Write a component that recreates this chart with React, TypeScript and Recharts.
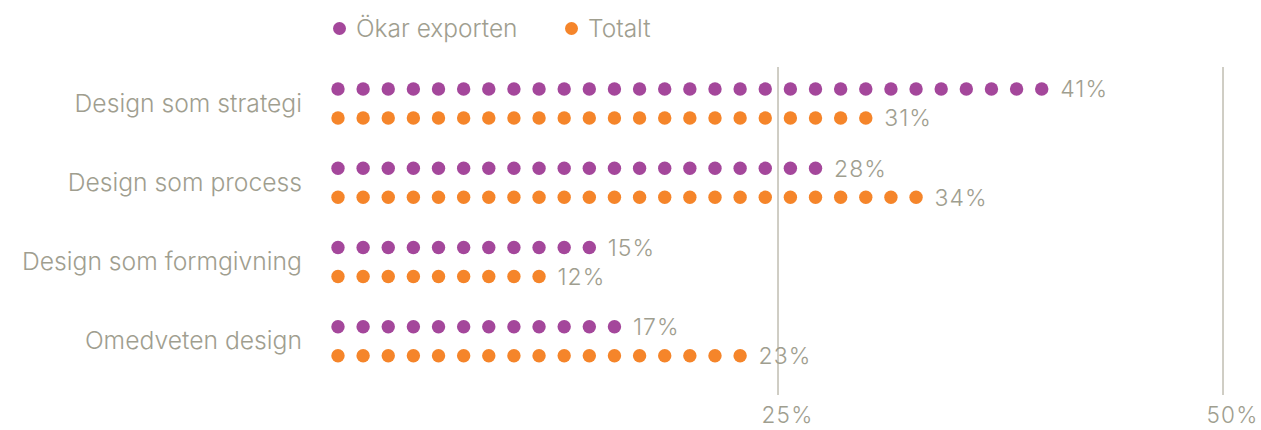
import React from "react";
import { BarChart, Bar, XAxis, YAxis, ReferenceLine } from "recharts";

const categories = ["Design som strategi", "Design som process", "Design som formgivning", "Omedveten design"];
const okarExporten = [41, 28, 15, 17];
const totalt = [31, 34, 12, 23];
const xTicks = [25, 50];
const seriesNames = ["Ökar exporten", "Totalt"];

const DOT_UNIT = 1.42; // percent represented by one dot
const DOT_STEP = 1.412; // spacing between dots in percent units

const PURPLE = "#a4479b";
const ORANGE = "#f5852a";
const GRAY = "#a09e8f";
const LINE = "#a09c8a";
const FONT = "Inter";

const data = categories.map((c, i) => ({ name: c, exporten: okarExporten[i], totalt: totalt[i] }));

const makeDotShape = (color: string) => (props: any) => {
  const { x, y, width, height, value } = props;
  const v = Array.isArray(value) ? value[1] - value[0] : value;
  if (!v || !width) return <g />;
  const pxPerUnit = width / v;
  const step = DOT_STEP * pxPerUnit;
  const n = Math.ceil(v / DOT_UNIT);
  const cy = y + height / 2;
  const x0 = x + 0.28 * pxPerUnit;
  const dots = [];
  for (let i = 0; i < n; i++) {
    dots.push(<circle key={i} cx={x0 + i * step} cy={cy} r={6.7} fill={color} />);
  }
  const lastX = x0 + (n - 1) * step;
  return (
    <g>
      {dots}
      <text x={lastX + 18.5} y={cy} dy="0.36em" fill={GRAY} fontSize={23} letterSpacing={1} fontFamily={FONT} fontWeight={300} textAnchor="start">
        {v}%
      </text>
    </g>
  );
};

const XTick = (props: any) => {
  const { x, y, payload } = props;
  return (
    <text x={x + 9.5} y={y + 12} dy="0.36em" textAnchor="middle" fill={GRAY} fontSize={22.5} letterSpacing={1.2} fontFamily={FONT} fontWeight={300}>
      {payload.value}%
    </text>
  );
};

const YTick = (props: any) => {
  const { x, y, payload } = props;
  return (
    <text x={x} y={y - 1} dy="0.36em" textAnchor="end" fill={GRAY} fontSize={24.7} fontFamily={FONT} fontWeight={300}>
      {payload.value}
    </text>
  );
};

const LegendBox = () => {
  const colors = [PURPLE, ORANGE];
  const lefts = [333, 565];
  return (
    <>
      {seriesNames.map((n, i) => (
        <div key={n} style={{ position: "absolute", left: lefts[i], top: 13, height: 30, display: "flex", alignItems: "center", whiteSpace: "nowrap" }}>
          <span style={{ display: "inline-block", width: 13, height: 13, borderRadius: "50%", background: colors[i], marginRight: 10 }} />
          <span style={{ color: GRAY, fontSize: 24.5, fontFamily: FONT, fontWeight: 300 }}>{n}</span>
        </div>
      ))}
    </>
  );
};

export default function App() {
  return (
    <div style={{ position: "absolute", left: 0, top: 0, width: 1261, height: 430, background: "#fff" }}>
      <BarChart
        width={1261}
        height={430}
        data={data}
        layout="vertical"
        margin={{ top: 67, right: 38, bottom: 0, left: 0 }}
        barSize={14}
        barGap={15}
      >
        <XAxis type="number" domain={[0, 50]} ticks={xTicks} axisLine={false} tickLine={false} height={35} tick={<XTick />} />
        <YAxis
          type="category"
          dataKey="name"
          width={333}
          axisLine={false}
          tickLine={false}
          tickSize={0}
          tickMargin={31}
          padding={{ top: -3, bottom: 14 }}
          tick={<YTick />}
        />
        {xTicks.map((t) => (
          <ReferenceLine key={t} x={t} stroke={LINE} strokeWidth={1} />
        ))}
        <Bar dataKey="exporten" name={seriesNames[0]} fill={PURPLE} isAnimationActive={false} shape={makeDotShape(PURPLE)} />
        <Bar dataKey="totalt" name={seriesNames[1]} fill={ORANGE} isAnimationActive={false} shape={makeDotShape(ORANGE)} />
      </BarChart>
      <LegendBox />
    </div>
  );
}
